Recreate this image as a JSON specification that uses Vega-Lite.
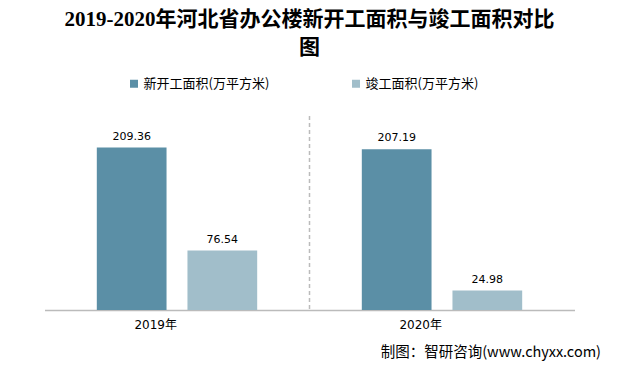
{
  "$schema": "https://vega.github.io/schema/vega-lite/v6.json",
  "autosize": {"type": "none"},
  "width": 530,
  "height": 194,
  "padding": {"left": 44.5, "top": 116, "right": 46.5, "bottom": 62},
  "background": "white",
  "title": {
    "text": ["2019-2020年河北省办公楼新开工面积与竣工面积对比", "图"],
    "font": "Liberation Serif, Noto Sans CJK SC",
    "fontSize": 21,
    "fontWeight": "bold",
    "color": "#000000",
    "lineHeight": 28,
    "anchor": "middle",
    "offset": 19
  },
  "config": {
    "view": {"stroke": null},
    "font": "DejaVu Sans, Noto Sans CJK SC"
  },
  "data": {
    "values": [
      {"year": "2019年", "series": "新开工面积(万平方米)", "value": 209.36},
      {"year": "2019年", "series": "竣工面积(万平方米)", "value": 76.54},
      {"year": "2020年", "series": "新开工面积(万平方米)", "value": 207.19},
      {"year": "2020年", "series": "竣工面积(万平方米)", "value": 24.98}
    ]
  },
  "layer": [
    {
      "data": {"values": [{"year": "2020年"}]},
      "mark": {"type": "rule", "color": "#BBBBBB", "strokeDash": [4, 3], "strokeWidth": 1.5},
      "encoding": {
        "x": {"field": "year", "type": "nominal", "bandPosition": 0}
      }
    },
    {
      "mark": {"type": "bar"},
      "encoding": {
        "x": {
          "field": "year", "type": "nominal",
          "scale": {"paddingInner": 0, "paddingOuter": 0},
          "axis": {
            "title": "制图：智研咨询(www.chyxx.com)",
            "titleFont": "Noto Sans CJK SC",
            "titleFontSize": 14.5,
            "titleFontWeight": "normal",
            "titleColor": "#000000",
            "titleAnchor": "end",
            "titleAlign": "right",
            "titleBaseline": "middle",
            "titleX": 556,
            "titleY": 42,
            "labelAngle": 0,
            "labelFont": "DejaVu Sans, Noto Sans CJK SC",
            "labelFontSize": 12,
            "labelColor": "#000000",
            "labelPadding": 14,
            "ticks": false,
            "domainColor": "#BBBBBB",
            "domainWidth": 1.5
          }
        },
        "xOffset": {
          "field": "series", "type": "nominal",
          "sort": ["新开工面积(万平方米)", "竣工面积(万平方米)"],
          "scale": {"paddingInner": 0.2308, "paddingOuter": 0.577}
        },
        "y": {
          "field": "value", "type": "quantitative",
          "scale": {"domain": [0, 250], "nice": false},
          "axis": null
        },
        "color": {
          "field": "series", "type": "nominal",
          "sort": ["新开工面积(万平方米)", "竣工面积(万平方米)"],
          "scale": {"range": ["#5B8FA6", "#A1BECA"]},
          "legend": {
            "orient": "none",
            "legendX": 83,
            "legendY": -39,
            "direction": "horizontal",
            "title": null,
            "symbolType": "square",
            "symbolSize": 64,
            "symbolStrokeWidth": 0,
            "labelFont": "Noto Sans CJK SC",
            "labelFontSize": 13,
            "labelColor": "#000000",
            "labelOffset": 3,
            "columnPadding": 80
          }
        }
      }
    },
    {
      "mark": {"type": "text", "baseline": "bottom", "dy": -6, "font": "DejaVu Sans", "fontSize": 11, "color": "#000000"},
      "encoding": {
        "x": {"field": "year", "type": "nominal"},
        "xOffset": {
          "field": "series", "type": "nominal",
          "sort": ["新开工面积(万平方米)", "竣工面积(万平方米)"]
        },
        "y": {"field": "value", "type": "quantitative"},
        "text": {"field": "value", "type": "quantitative", "format": ".2f"}
      }
    }
  ]
}
